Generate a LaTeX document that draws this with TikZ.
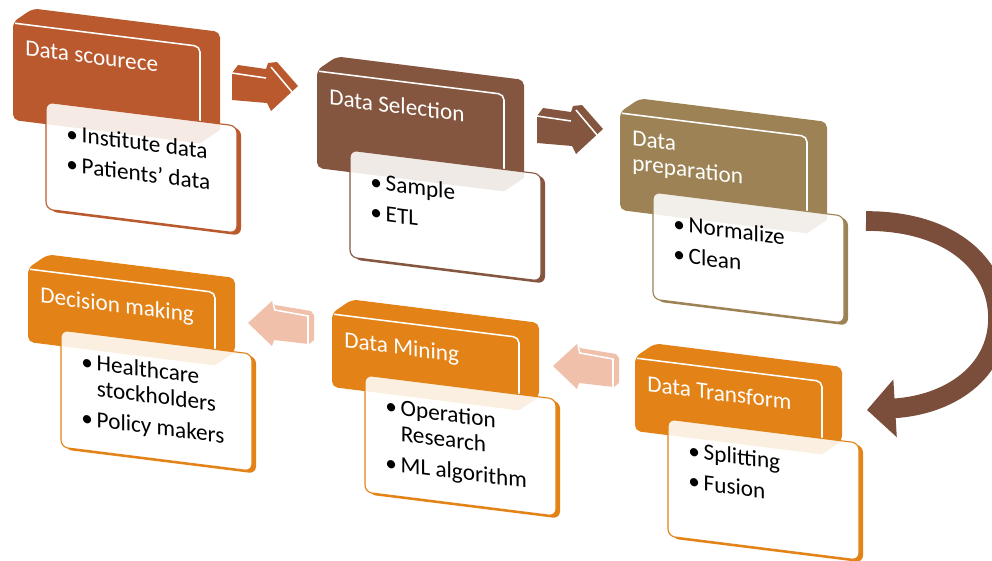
\documentclass[tikz,border=0pt]{standalone}
\usepackage{fontspec}
\setmainfont{Carlito}
\usetikzlibrary{arrows.meta}

\definecolor{srcrust}{RGB}{185,89,45}
\definecolor{selbrown}{RGB}{133,86,63}
\definecolor{prepkhaki}{RGB}{156,130,84}
\definecolor{mineorange}{RGB}{227,130,22}
\definecolor{backpeach}{RGB}{240,192,170}
\definecolor{loopbrown}{RGB}{122,78,58}

\newcommand\bul{\makebox[11pt][l]{\textbullet}}
% #1 name, #2 top left, #3 colour, #4 header height, #5 box top, #6 box height, #7 title, #8 items
\newcommand\stagebox[8]{%
  \begin{scope}[shift={#2}, yslant=-0.125]
    \fill[#3, rounded corners=4pt] (0,#4) -- (0,0) -- (20,-16) -- (207,-16) -- (207,#4-16) -- (187,#4) -- cycle;
    \draw[white, line width=1.1pt, rounded corners=4pt] (2,1) -- (187,1) -- (187,#4);
    \node[stagetitle] (#1h) at (12,17) {#7};
    \fill[#3, rounded corners=5pt] (37,#5+2) rectangle ++(191,#6);
    \fill[white, rounded corners=5pt] (33,#5) rectangle ++(191,#6);
    \begin{scope}
      \clip[rounded corners=5pt] (33,#5) rectangle ++(191,#6);
      \fill[#3, opacity=0.12] (0,#4) -- (0,0) -- (20,-16) -- (207,-16) -- (207,#4-16) -- (187,#4) -- cycle;
    \end{scope}
    \draw[#3, line width=0.8pt, rounded corners=5pt] (33,#5) rectangle ++(191,#6);
    \node[stageitems] (#1t) at (53,#5+20) {#8};
  \end{scope}}

\tikzset{
  stagetitle/.style={anchor=north west, inner sep=0pt, transform shape, text=white, align=left,
    font=\fontsize{16.5}{17.5}\selectfont},
  stageitems/.style={anchor=north west, inner sep=0pt, transform shape, text=black, align=left,
    font=\fontsize{16.5}{18}\selectfont},
  stripe/.style={white, line width=1.1pt},
  looparrow/.style={loopbrown, line width=14pt, -{Triangle[length=20pt, width=40pt]}}
}

\begin{document}
\begin{tikzpicture}[x=0.025cm, y=-0.025cm]
  \useasboundingbox (0,0) rectangle (992,560);

  % top row
  \stagebox{src}{(13,22)}{srcrust}{98}{76}{107}{Data scourece}
    {\bul Institute data\\[4pt]\bul Patients’ data}
  \stagebox{sel}{(317,70)}{selbrown}{98}{76}{107}{Data Selection}
    {\bul Sample\\[4pt]\bul ETL}
  \stagebox{prep}{(620,112)}{prepkhaki}{98}{76}{107}{Data\\preparation}
    {\bul Normalize\\[4pt]\bul Clean}

  % bottom row
  \stagebox{trans}{(635,357)}{mineorange}{74}{58}{117}{Data Transform}
    {\bul Splitting\\[4pt]\bul Fusion}
  \stagebox{mine}{(332,313)}{mineorange}{74}{58}{117}{Data Mining}
    {\bul Operation\\\hspace*{11pt}Research\\[4pt]\bul ML algorithm}
  \stagebox{dec}{(28,268)}{mineorange}{74}{58}{117}{Decision making}
    {\bul Healthcare\\\hspace*{11pt}stockholders\\[4pt]\bul Policy makers}

  % forward arrows
  \foreach \dx/\dy/\col in {0/0/srcrust, 305/43/selbrown} {
    \begin{scope}[shift={(\dx,\dy)}]
      \fill[\col] (232,73) -- (238,65) -- (266,69) -- (268,63) -- (277,62) -- (298,86)
        -- (271,111) -- (267,103) -- (232,100) -- cycle;
      \draw[stripe] (232,73) -- (266,78);
      \draw[stripe] (271,67) -- (292,92);
    \end{scope}
  }

  % backward arrows
  \foreach \dx/\dy in {0/0, 305/43} {
    \begin{scope}[shift={(\dx,\dy)}]
      \fill[backpeach] (248,323) -- (272,301) -- (275,305) -- (311,311) -- (314,315)
        -- (314,340) -- (309,344) -- (274,340) -- (272,346) -- cycle;
      \draw[stripe] (275,310) -- (308,316) -- (308,344);
      \draw[stripe] (273,302) -- (275,311);
    \end{scope}
  }

  % loop from preparation down to transform
  \coordinate (prepout) at (866,221);
  \coordinate (transin) at (867,410);
  \draw[looparrow] (prepout) .. controls (955,221) and (998,268) .. (998,318)
    .. controls (998,372) and (950,405) .. (transin);
\end{tikzpicture}
\end{document}
